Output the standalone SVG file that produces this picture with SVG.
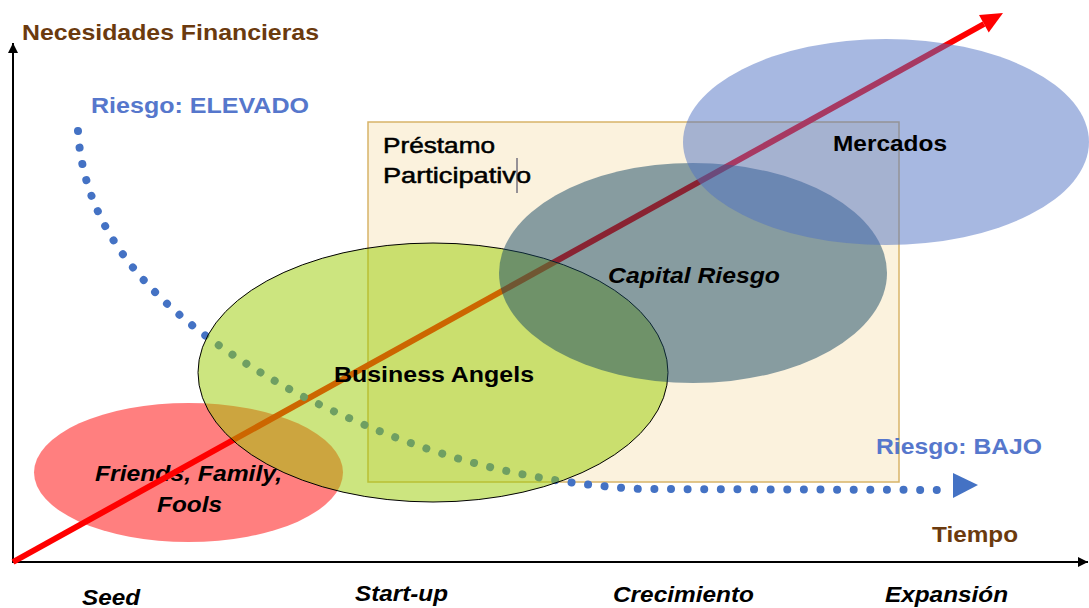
<svg xmlns="http://www.w3.org/2000/svg" width="1089" height="608" viewBox="0 0 1089 608">
<style>
text{font-family:"Liberation Sans",Arial,sans-serif;font-size:21.5px;font-weight:bold;fill:#000}
.it{font-style:italic}
.brown{fill:#6b3a0e}
.blue{fill:#5677cc}
.axis{stroke:#000;stroke-width:2;fill:none}
</style>
<defs>
<marker id="ah" viewBox="0 0 10 10" refX="10" refY="5" markerWidth="10" markerHeight="10" markerUnits="userSpaceOnUse" orient="auto">
<path d="M0,0 L10,5 L0,10 z" fill="#000"/>
</marker>
</defs>
<rect width="1089" height="608" fill="#fff"/>

<g id="prestamo">
<rect x="368" y="122" width="531" height="360" fill="#fbf2dd" stroke="#d8b468" stroke-width="1.5"/>
<text x="383" y="153" textLength="112" lengthAdjust="spacingAndGlyphs" style="font-weight:normal;stroke:#000;stroke-width:0.5">Préstamo</text>
<text x="383" y="183" textLength="148" lengthAdjust="spacingAndGlyphs" style="font-weight:normal;stroke:#000;stroke-width:0.5">Participativo</text>
<line x1="517" y1="158" x2="517" y2="193" stroke="#303050" stroke-width="1"/>
</g>

<g id="fff">
<ellipse cx="188.5" cy="472.5" rx="154.5" ry="69.5" fill="#ff0000" fill-opacity="0.5"/>
<text class="it" x="95" y="481" textLength="187" lengthAdjust="spacingAndGlyphs">Friends, Family,</text>
<text class="it" x="157" y="512" textLength="65" lengthAdjust="spacingAndGlyphs">Fools</text>
</g>

<g id="connectors">
<line class="axis" x1="13" y1="563" x2="13" y2="43" marker-end="url(#ah)"/>
<line class="axis" x1="12" y1="562" x2="1088" y2="562" marker-end="url(#ah)"/>
<line x1="13" y1="562" x2="984" y2="24" stroke="#ff0000" stroke-width="6"/>
<polygon points="1003,13 979,15 988.7,32.4" fill="#ff0000"/>
<path d="M78,131 C85,250 180,330 300,395 C420,455 520,482 640,489 L946,490" fill="none" stroke="#4472c4" stroke-width="8" stroke-linecap="round" stroke-dasharray="0.01 16.6"/>
<polygon points="953,473 978,485 953,498" fill="#4472c4"/>
</g>

<g id="business-angels">
<ellipse cx="433" cy="372.5" rx="235" ry="129.5" fill="#99cc00" fill-opacity="0.5" stroke="#000" stroke-width="1"/>
<text x="334" y="382" textLength="200" lengthAdjust="spacingAndGlyphs">Business Angels</text>
</g>

<g id="capital-riesgo">
<ellipse cx="693" cy="273" rx="194" ry="110" fill="#144664" fill-opacity="0.5"/>
<text class="it" x="608" y="283" textLength="172" lengthAdjust="spacingAndGlyphs">Capital Riesgo</text>
</g>

<g id="mercados">
<ellipse cx="886" cy="142" rx="203" ry="103" fill="#4f72c4" fill-opacity="0.5"/>
<text x="833" y="151" textLength="114" lengthAdjust="spacingAndGlyphs">Mercados</text>
</g>

<g id="labels">
<text class="brown" x="22" y="40" textLength="297" lengthAdjust="spacingAndGlyphs">Necesidades Financieras</text>
<text class="blue" x="91" y="113" textLength="218" lengthAdjust="spacingAndGlyphs">Riesgo: ELEVADO</text>
<text class="blue" x="876" y="454" textLength="166" lengthAdjust="spacingAndGlyphs">Riesgo: BAJO</text>
<text class="brown" x="932" y="542" textLength="86" lengthAdjust="spacingAndGlyphs">Tiempo</text>
<text class="it" x="82" y="605" textLength="58" lengthAdjust="spacingAndGlyphs">Seed</text>
<text class="it" x="355" y="601" textLength="93" lengthAdjust="spacingAndGlyphs">Start-up</text>
<text class="it" x="613" y="602" textLength="141" lengthAdjust="spacingAndGlyphs">Crecimiento</text>
<text class="it" x="885" y="602" textLength="123" lengthAdjust="spacingAndGlyphs">Expansión</text>
</g>
</svg>
